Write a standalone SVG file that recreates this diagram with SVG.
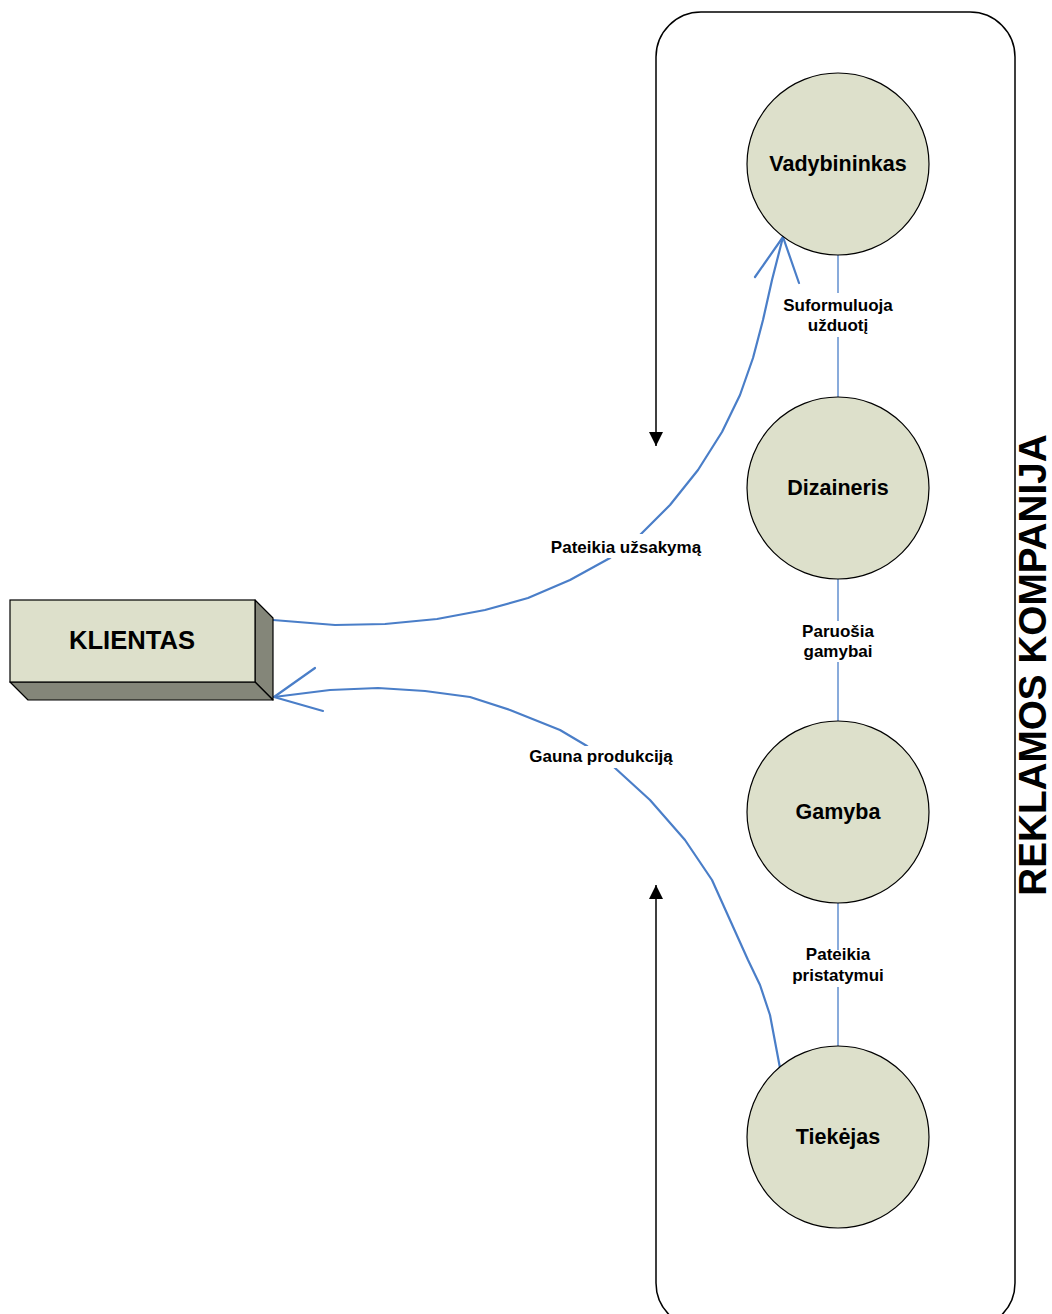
<svg xmlns="http://www.w3.org/2000/svg" width="1052" height="1314" viewBox="0 0 1052 1314">
  <style>
    .bubble { fill: #dde0cb; stroke: #000; stroke-width: 1.2; }
    .bubble-label { font-family: "Liberation Sans", Arial, sans-serif; font-weight: bold; font-size: 21.5px; text-anchor: middle; fill: #000; }
    .flow { fill: none; stroke: #4a7ec8; stroke-width: 2.2; stroke-linejoin: round; stroke-linecap: round; }
    .link { fill: none; stroke: #4a7ec8; stroke-width: 1.3; }
    .flow-label { font-family: "Liberation Sans", Arial, sans-serif; font-weight: bold; font-size: 17px; text-anchor: middle; fill: #000; }
    .label-bg { fill: #fff; }
    .boundary { fill: none; stroke: #000; stroke-width: 1.5; }
  </style>
  <defs>
    <marker id="solid-head" markerUnits="userSpaceOnUse" viewBox="0 0 14 14" refX="14" refY="7" markerWidth="14" markerHeight="14" orient="auto-start-reverse">
      <path d="M0,0 L14,7 L0,14 z" fill="#000"/>
    </marker>
  </defs>
  <rect width="1052" height="1314" fill="#fff"/>

  <!-- company boundary with open gap on the left side -->
  <g id="boundary">
    <path class="boundary" marker-start="url(#solid-head)" marker-end="url(#solid-head)"
      d="M656 885 L656 1283 A45 45 0 0 0 701 1328 L970 1328 A45 45 0 0 0 1015 1283 L1015 57 A45 45 0 0 0 970 12 L701 12 A45 45 0 0 0 656 57 L656 446"/>
    <text transform="translate(1046 665) rotate(-90)" font-family="Liberation Sans, Arial, sans-serif" font-weight="bold" font-size="38.7" text-anchor="middle" fill="#000">REKLAMOS KOMPANIJA</text>
  </g>

  <!-- connectors -->
  <g id="connectors">
    <line class="link" x1="838" y1="255" x2="838" y2="397"/>
    <line class="link" x1="838" y1="579" x2="838" y2="721"/>
    <line class="link" x1="838" y1="903" x2="838" y2="1046"/>
    <path class="flow" d="M273 620 L335 625 L385 624 L437 619 L485 610 L528 598 L570 580 L610 558 L640 535 L670 505 L698 470 L722 432 L740 395 L753 358 L763 320 L772 280 L783 237"/>
    <path class="flow" d="M755 277 L783 237 L799 283"/>
    <path class="flow" d="M780 1068 L770 1015 L760 985 L748 960 L730 920 L712 880 L685 840 L650 800 L615 768 L587 746 L560 730 L510 710 L470 697 L425 691 L378 688 L330 690 L274 697"/>
    <path class="flow" d="M315 668 L274 697 L323 711"/>

    <rect class="label-bg" x="780" y="293" width="116" height="44"/>
    <text class="flow-label" x="838" y="311">Suformuluoja</text>
    <text class="flow-label" x="838" y="331">užduotį</text>

    <rect class="label-bg" x="798" y="621" width="80" height="41"/>
    <text class="flow-label" x="838" y="637">Paruošia</text>
    <text class="flow-label" x="838" y="657">gamybai</text>

    <rect class="label-bg" x="790" y="950" width="96" height="37"/>
    <text class="flow-label" x="838" y="960">Pateikia</text>
    <text class="flow-label" x="838" y="981">pristatymui</text>

    <rect class="label-bg" x="547" y="534" width="158" height="24"/>
    <text class="flow-label" x="626" y="553">Pateikia užsakymą</text>

    <rect class="label-bg" x="527" y="746" width="150" height="22"/>
    <text class="flow-label" x="601" y="762">Gauna produkciją</text>
  </g>

  <!-- external entity -->
  <g id="klientas">
    <polygon points="255,600 273,618 273,700 255,682" fill="#848679" stroke="#000" stroke-width="1.2" stroke-linejoin="round"/>
    <polygon points="10,682 255,682 273,700 28,700" fill="#848679" stroke="#000" stroke-width="1.2" stroke-linejoin="round"/>
    <rect x="10" y="600" width="245" height="82" fill="#dde0cb" stroke="#000" stroke-width="1.2"/>
    <text x="132" y="649" font-family="Liberation Sans, Arial, sans-serif" font-weight="bold" font-size="25.6" text-anchor="middle" fill="#000">KLIENTAS</text>
  </g>

  <!-- processes -->
  <g id="vadybininkas">
    <circle class="bubble" cx="838" cy="164" r="91"/>
    <text class="bubble-label" x="838" y="171">Vadybininkas</text>
  </g>
  <g id="dizaineris">
    <circle class="bubble" cx="838" cy="488" r="91"/>
    <text class="bubble-label" x="838" y="495">Dizaineris</text>
  </g>
  <g id="gamyba">
    <circle class="bubble" cx="838" cy="812" r="91"/>
    <text class="bubble-label" x="838" y="819">Gamyba</text>
  </g>
  <g id="tiekejas">
    <circle class="bubble" cx="838" cy="1137" r="91"/>
    <text class="bubble-label" x="838" y="1144">Tiekėjas</text>
  </g>
</svg>
